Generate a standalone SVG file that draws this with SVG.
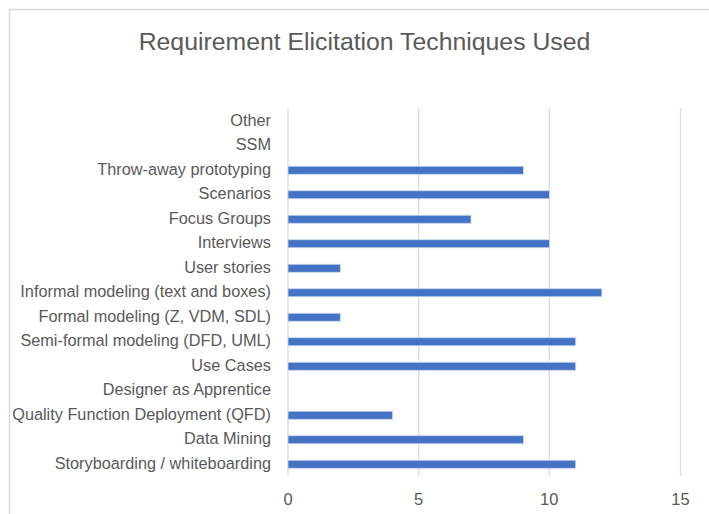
<svg xmlns="http://www.w3.org/2000/svg" width="709" height="514" viewBox="0 0 709 514">
<style>
.lbl{font-family:"Liberation Sans",Arial,sans-serif;font-size:16.3px;fill:#595959;text-anchor:end}
.tick{font-family:"Liberation Sans",Arial,sans-serif;font-size:16.5px;fill:#595959;text-anchor:middle}
.title{font-family:"Liberation Sans",Arial,sans-serif;font-size:24.8px;fill:#595959;text-anchor:middle}
.grid{stroke:#d9d9d9;stroke-width:1.2;fill:none}
.bar{fill:#4472c4;stroke:#c9d6f0;stroke-width:0.8}
</style>
<rect x="0" y="0" width="709" height="514" fill="#ffffff"/>
<rect x="9.5" y="9.5" width="730" height="530" fill="none" stroke="#d9d9d9" stroke-width="1.5"/>
<text class="title" x="364.5" y="50">Requirement Elicitation Techniques Used</text>
<g id="gridlines">
<line class="grid" x1="288" y1="108" x2="288" y2="476"/>
<line class="grid" x1="418.7" y1="108" x2="418.7" y2="476"/>
<line class="grid" x1="549.3" y1="108" x2="549.3" y2="476"/>
<line class="grid" x1="680.5" y1="108" x2="680.5" y2="476"/>
</g>
<g id="x-axis">
<text class="tick" x="288" y="505">0</text>
<text class="tick" x="418.7" y="505">5</text>
<text class="tick" x="549.3" y="505">10</text>
<text class="tick" x="680.5" y="505">15</text>
</g>
<g id="labels">
<text class="lbl" x="271" y="125.5">Other</text>
<text class="lbl" x="271" y="150">SSM</text>
<text class="lbl" x="271" y="174.5">Throw-away prototyping</text>
<text class="lbl" x="271" y="199">Scenarios</text>
<text class="lbl" x="271" y="223.5">Focus Groups</text>
<text class="lbl" x="271" y="248">Interviews</text>
<text class="lbl" x="271" y="272.5">User stories</text>
<text class="lbl" x="271" y="297">Informal modeling (text and boxes)</text>
<text class="lbl" x="271" y="321.5">Formal modeling (Z, VDM, SDL)</text>
<text class="lbl" x="271" y="346">Semi-formal modeling (DFD, UML)</text>
<text class="lbl" x="271" y="370.5">Use Cases</text>
<text class="lbl" x="271" y="395">Designer as Apprentice</text>
<text class="lbl" x="271" y="419.5">Quality Function Deployment (QFD)</text>
<text class="lbl" x="271" y="444">Data Mining</text>
<text class="lbl" x="271" y="468.5">Storyboarding / whiteboarding</text>
</g>
<g id="bars">
<rect id="bar-throwaway" class="bar" x="288" y="166.25" width="235.4" height="8"/>
<rect id="bar-scenarios" class="bar" x="288" y="190.75" width="261.5" height="8"/>
<rect id="bar-focus" class="bar" x="288" y="215.25" width="183" height="8"/>
<rect id="bar-interviews" class="bar" x="288" y="239.75" width="261.5" height="8"/>
<rect id="bar-userstories" class="bar" x="288" y="264.25" width="52.3" height="8"/>
<rect id="bar-informal" class="bar" x="288" y="288.75" width="313.8" height="8"/>
<rect id="bar-formal" class="bar" x="288" y="313.25" width="52.3" height="8"/>
<rect id="bar-semiformal" class="bar" x="288" y="337.75" width="287.7" height="8"/>
<rect id="bar-usecases" class="bar" x="288" y="362.25" width="287.7" height="8"/>
<rect id="bar-qfd" class="bar" x="288" y="411.25" width="104.6" height="8"/>
<rect id="bar-datamining" class="bar" x="288" y="435.75" width="235.4" height="8"/>
<rect id="bar-storyboarding" class="bar" x="288" y="460.25" width="287.7" height="8"/>
</g>
</svg>
